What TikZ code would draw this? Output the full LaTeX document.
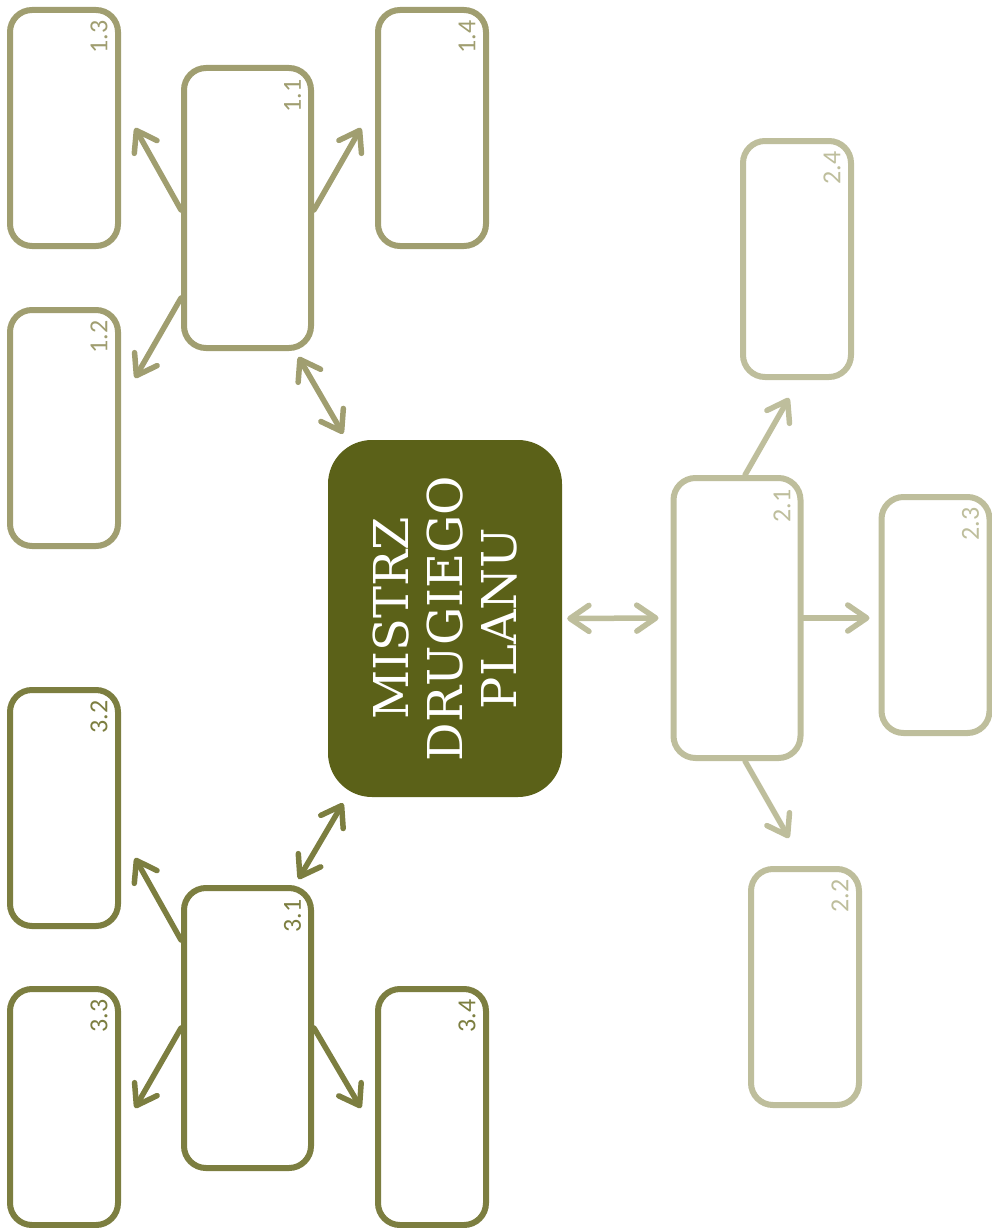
\documentclass[tikz,border=0pt]{standalone}
\usepackage{fontspec}
\setmainfont{DejaVu Serif}
\newfontfamily\lblfont{Carlito}
\usetikzlibrary{arrows.meta}
\definecolor{gA}{HTML}{A09E70}
\definecolor{gB}{HTML}{BEBE9C}
\definecolor{gC}{HTML}{7C7E40}
\definecolor{gM}{HTML}{5B6118}
\begin{document}
\begin{tikzpicture}[x=1pt,y=-1pt,
  box/.style={draw, line width=6pt, rounded corners=22pt, minimum width=108pt, minimum height=236pt, fill=white, inner sep=0pt},
  bigbox/.style={box, minimum width=127pt, minimum height=280pt},
  lbl/.style={rotate=90, font=\lblfont\fontsize{26}{26}\selectfont, inner sep=0pt},
  tip/.tip={Straight Barb[length=19pt,width=26pt,line cap=round,line join=round]},
  con/.style={line width=5.5pt, line cap=round, -tip},
  dcon/.style={line width=5.5pt, line cap=round, tip-tip}
]
\useasboundingbox (0,0) rectangle (991,1228);
% central node
\node[fill=gM, rounded corners=44pt, minimum width=234pt, minimum height=357pt, inner sep=0pt] (c) at (445,618.5) {};
\node[rotate=90, text=white, align=center, font=\fontsize{48}{54}\selectfont, inner sep=0pt] (ct) at (c.center) {MISTRZ\\DRUGIEGO\\PLANU};
% group 1
\node[box, draw=gA] (n13) at (64,128) {};
\node[box, draw=gA] (n14) at (432,128) {};
\node[bigbox, draw=gA] (n11) at (247.5,208) {};
\node[box, draw=gA] (n12) at (64,428) {};
\node[lbl, text=gA] (l13) at ([shift={(35,-91)}]n13.center) {1.3};
\node[lbl, text=gA] (l14) at ([shift={(35,-91)}]n14.center) {1.4};
\node[lbl, text=gA] (l11) at ([shift={(45,-112)}]n11.center) {1.1};
\node[lbl, text=gA] (l12) at ([shift={(35,-91)}]n12.center) {1.2};
% group 2
\node[box, draw=gB] (n24) at (797,259) {};
\node[bigbox, draw=gB] (n21) at (737,618) {};
\node[box, draw=gB] (n23) at (935.5,615) {};
\node[box, draw=gB] (n22) at (805,987) {};
\node[lbl, text=gB] (l24) at ([shift={(35,-91)}]n24.center) {2.4};
\node[lbl, text=gB] (l21) at ([shift={(45,-112)}]n21.center) {2.1};
\node[lbl, text=gB] (l23) at ([shift={(35,-91)}]n23.center) {2.3};
\node[lbl, text=gB] (l22) at ([shift={(35,-91)}]n22.center) {2.2};
% group 3
\node[box, draw=gC] (n32) at (64,808) {};
\node[bigbox, draw=gC] (n31) at (247.5,1028) {};
\node[box, draw=gC] (n33) at (64,1107) {};
\node[box, draw=gC] (n34) at (432,1107) {};
\node[lbl, text=gC] (l32) at ([shift={(35,-91)}]n32.center) {3.2};
\node[lbl, text=gC] (l31) at ([shift={(45,-112)}]n31.center) {3.1};
\node[lbl, text=gC] (l33) at ([shift={(35,-91)}]n33.center) {3.3};
\node[lbl, text=gC] (l34) at ([shift={(35,-91)}]n34.center) {3.4};
% connectors group 1
\draw[dcon, draw=gA] ([shift={(51,6)}]n11.south) -- ([shift={(-102,-6)}]c.north);
\draw[con, draw=gA] ([shift={(0,2)}]n11.west) -- ([shift={(14,0)}]n13.east);
\draw[con, draw=gA] ([shift={(0,90)}]n11.west) -- ([shift={(14,-50)}]n12.east);
\draw[con, draw=gA] ([shift={(0,2)}]n11.east) -- ([shift={(-14,0)}]n14.west);
% connectors group 2
\draw[dcon, draw=gB] ([shift={(5,0)}]c.east) -- ([shift={(-12,0)}]n21.west);
\draw[con, draw=gB] ([shift={(8,0)}]n21.north) -- ([shift={(-8,18)}]n24.south);
\draw[con, draw=gB] (n21.east) -- ([shift={(-9,3)}]n23.west);
\draw[con, draw=gB] ([shift={(8,0)}]n21.south) -- ([shift={(-16,-28)}]n22.north);
% connectors group 3
\draw[dcon, draw=gC] ([shift={(51,-6)}]n31.north) -- ([shift={(-102,6)}]c.south);
\draw[con, draw=gC] ([shift={(0,-88)}]n31.west) -- ([shift={(14,50)}]n32.east);
\draw[con, draw=gC] (n31.west) -- ([shift={(14,1)}]n33.east);
\draw[con, draw=gC] (n31.east) -- ([shift={(-14,1)}]n34.west);
\end{tikzpicture}
\end{document}
